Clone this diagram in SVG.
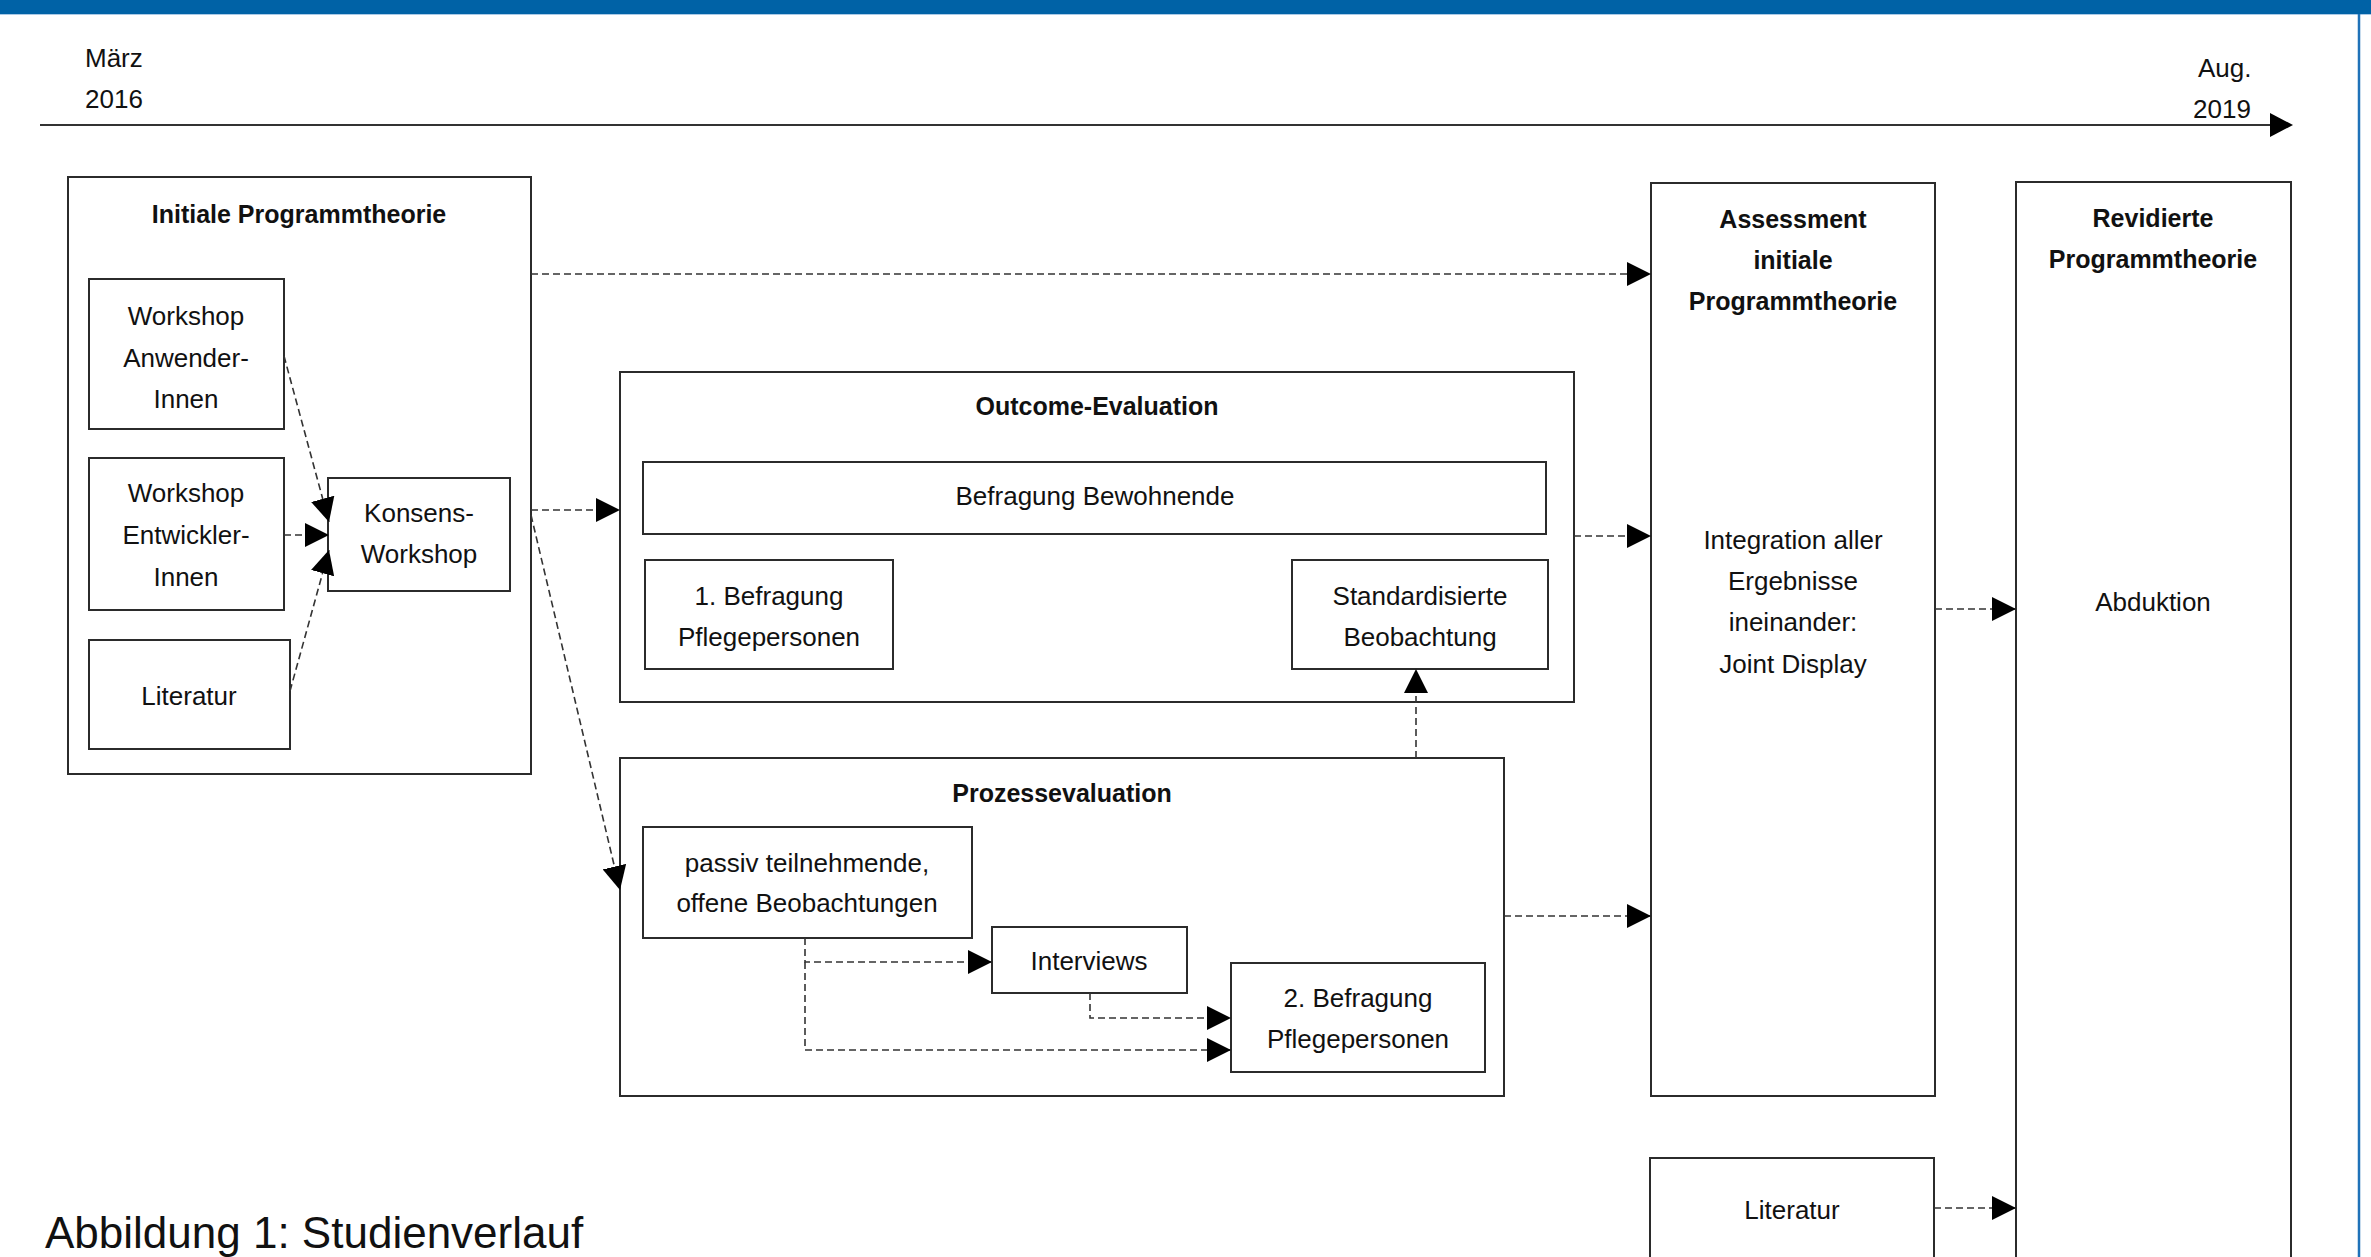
<svg xmlns="http://www.w3.org/2000/svg" width="2371" height="1257" viewBox="0 0 2371 1257">
<defs>
<style>
.box{fill:#fff;stroke:#2b2b2b;stroke-width:2}
.t{font-family:"Liberation Sans",Arial,sans-serif;font-size:26px;fill:#111;text-anchor:middle}
.l{font-family:"Liberation Sans",Arial,sans-serif;font-size:26px;fill:#111}
.b{font-family:"Liberation Sans",Arial,sans-serif;font-size:25px;font-weight:bold;fill:#111;text-anchor:middle}
.c{fill:none;stroke:#333;stroke-width:1.6;stroke-dasharray:7 4;marker-end:url(#ah)}
</style>
<marker id="ah" markerUnits="userSpaceOnUse" markerWidth="24" markerHeight="24" refX="24" refY="12" orient="auto" viewBox="0 0 24 24"><path d="M0,0L24,12L0,24z" fill="#000"/></marker>
</defs>
<rect width="2371" height="1257" fill="#fff"/>
<g id="frame">
<rect x="0" y="0" width="2371" height="14" fill="#0062a6"/>
<line x1="0" y1="14.5" x2="2371" y2="14.5" stroke="#a9c9e6" stroke-width="1"/>
<line x1="2359" y1="14" x2="2359" y2="1257" stroke="#1f72b8" stroke-width="2.5"/>
</g>
<g id="timeline">
<line x1="40" y1="125" x2="2272" y2="125" stroke="#333" stroke-width="2"/>
<polygon points="2270,113 2293,125 2270,137" fill="#000"/>
<text class="l" x="85" y="67">März</text>
<text class="l" x="85" y="108">2016</text>
<text class="l" x="2198" y="77">Aug.</text>
<text class="l" x="2193" y="118">2019</text>
</g>
<g id="initiale">
<rect class="box" x="68" y="177" width="463" height="597"/>
<text class="b" x="299" y="223">Initiale Programmtheorie</text>
</g>
<g id="anwender">
<rect class="box" x="89" y="279" width="195" height="150"/>
<text class="t" x="186" y="325">Workshop</text>
<text class="t" x="186" y="367">Anwender-</text>
<text class="t" x="186" y="408">Innen</text>
</g>
<g id="entwickler">
<rect class="box" x="89" y="458" width="195" height="152"/>
<text class="t" x="186" y="502">Workshop</text>
<text class="t" x="186" y="544">Entwickler-</text>
<text class="t" x="186" y="586">Innen</text>
</g>
<g id="literatur1">
<rect class="box" x="89" y="640" width="201" height="109"/>
<text class="t" x="189" y="705">Literatur</text>
</g>
<g id="konsens">
<rect class="box" x="328" y="478" width="182" height="113"/>
<text class="t" x="419" y="522">Konsens-</text>
<text class="t" x="419" y="563">Workshop</text>
</g>
<g id="outcome">
<rect class="box" x="620" y="372" width="954" height="330"/>
<text class="b" x="1097" y="415">Outcome-Evaluation</text>
</g>
<g id="bewohnende">
<rect class="box" x="643" y="462" width="903" height="72"/>
<text class="t" x="1095" y="505">Befragung Bewohnende</text>
</g>
<g id="befragung1">
<rect class="box" x="645" y="560" width="248" height="109"/>
<text class="t" x="769" y="605">1. Befragung</text>
<text class="t" x="769" y="646">Pflegepersonen</text>
</g>
<g id="standardisiert">
<rect class="box" x="1292" y="560" width="256" height="109"/>
<text class="t" x="1420" y="605">Standardisierte</text>
<text class="t" x="1420" y="646">Beobachtung</text>
</g>
<g id="prozess">
<rect class="box" x="620" y="758" width="884" height="338"/>
<text class="b" x="1062" y="802">Prozessevaluation</text>
</g>
<g id="passiv">
<rect class="box" x="643" y="827" width="329" height="111"/>
<text class="t" x="807" y="872">passiv teilnehmende,</text>
<text class="t" x="807" y="912">offene Beobachtungen</text>
</g>
<g id="interviews">
<rect class="box" x="992" y="927" width="195" height="66"/>
<text class="t" x="1089" y="970">Interviews</text>
</g>
<g id="befragung2">
<rect class="box" x="1231" y="963" width="254" height="109"/>
<text class="t" x="1358" y="1007">2. Befragung</text>
<text class="t" x="1358" y="1048">Pflegepersonen</text>
</g>
<g id="assessment">
<rect class="box" x="1651" y="183" width="284" height="913"/>
<text class="b" x="1793" y="228">Assessment</text>
<text class="b" x="1793" y="269">initiale</text>
<text class="b" x="1793" y="310">Programmtheorie</text>
<text class="t" x="1793" y="549">Integration aller</text>
<text class="t" x="1793" y="590">Ergebnisse</text>
<text class="t" x="1793" y="631">ineinander:</text>
<text class="t" x="1793" y="673">Joint Display</text>
</g>
<g id="revidierte">
<rect class="box" x="2016" y="182" width="275" height="1090"/>
<text class="b" x="2153" y="227">Revidierte</text>
<text class="b" x="2153" y="268">Programmtheorie</text>
<text class="t" x="2153" y="611">Abduktion</text>
</g>
<g id="literatur2">
<rect class="box" x="1650" y="1158" width="284" height="120"/>
<text class="t" x="1792" y="1219">Literatur</text>
</g>
<g id="connectors">
<path class="c" d="M531,274H1651"/>
<path class="c" d="M531,510H620"/>
<path class="c" d="M531,515L620,890"/>
<path class="c" d="M284,356L329,522"/>
<path class="c" d="M284,535H329"/>
<path class="c" d="M290,691L329,550"/>
<path class="c" d="M1574,536H1651"/>
<path class="c" d="M1416,758V669"/>
<path class="c" d="M1504,916H1651"/>
<path class="c" d="M805,938V962H992"/>
<path class="c" d="M805,962V1050H1231"/>
<path class="c" d="M1090,993V1018H1231"/>
<path class="c" d="M1935,609H2016"/>
<path class="c" d="M1934,1208H2016"/>
</g>
<text class="l" x="45" y="1248" style="font-size:44px">Abbildung 1: Studienverlauf</text>
</svg>
